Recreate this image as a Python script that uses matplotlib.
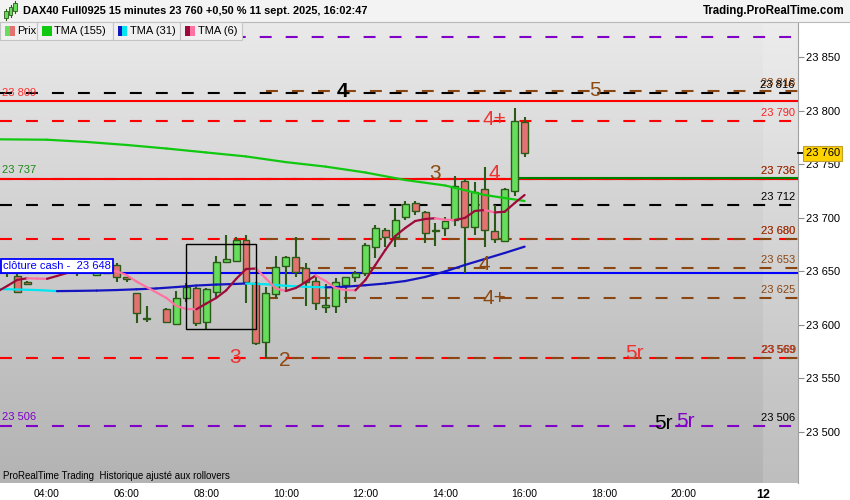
import numpy as np
import matplotlib
matplotlib.use("Agg")
import matplotlib.pyplot as plt
from matplotlib.patches import Rectangle
from matplotlib.collections import LineCollection
from matplotlib.colors import LinearSegmentedColormap
import matplotlib.transforms as mtransforms

plt.rcParams['font.family'] = ['Liberation Sans', 'DejaVu Sans']
plt.rcParams['lines.scale_dashes'] = False

# ---------------- data ----------------
bar_times = ["03:00", "03:15", "03:30", "03:45", "04:00", "04:15", "04:30", "04:45",
             "05:00", "05:15", "05:30", "05:45", "06:00", "06:15", "06:30",
             "07:00", "07:15", "07:30", "07:45", "08:00", "08:15", "08:30", "08:45",
             "09:00", "09:15", "09:30", "09:45", "10:00", "10:15", "10:30", "10:45",
             "11:00", "11:15", "11:30", "11:45", "12:00", "12:15", "12:30", "12:45",
             "13:00", "13:15", "13:30", "13:45", "14:00", "14:15", "14:30", "14:45",
             "15:00", "15:15", "15:30", "15:45", "16:00"]
opens = [23650, 23646, 23640, 23649, 23654, 23651, 23655, 23652,
         23651, 23647, 23648, 23655.5, 23644.5, 23629.5, 23606,
         23614.8, 23600.8, 23625.3, 23634, 23602.4, 23631, 23658.4, 23660,
         23679, 23638.8, 23583.7, 23628.5, 23655, 23663, 23653.4, 23641,
         23617, 23618, 23637, 23645, 23648, 23673, 23689, 23681.7,
         23701, 23713.5, 23705, 23687.5, 23690, 23698, 23734.6, 23691,
         23726.5, 23688, 23678.3, 23725, 23789]
highs = [23660, 23651, 23641, 23656, 23659, 23657, 23660, 23656,
         23655, 23656, 23657, 23657.5, 23645, 23630, 23617.6,
         23615.7, 23631.6, 23638.8, 23635, 23634, 23664.3, 23684, 23682.3,
         23684, 23640.3, 23635, 23664.3, 23664, 23682.3, 23658, 23645.6,
         23638, 23643.5, 23645, 23650, 23676, 23693, 23690, 23708.8,
         23716, 23716, 23706.3, 23695, 23700.4, 23739, 23736, 23733.6,
         23747, 23712, 23728, 23802, 23794]
lows = [23645, 23630, 23637, 23648.5, 23649, 23649, 23650, 23646,
        23648.5, 23645.5, 23647.5, 23640, 23640, 23601.5, 23603,
        23601.5, 23599.9, 23621.6, 23599, 23596, 23626.3, 23658, 23659.5,
        23620.7, 23581.2, 23569.3, 23624.8, 23632.5, 23645, 23617.6, 23614,
        23611, 23611.3, 23620, 23640, 23646, 23662, 23673, 23673,
        23698, 23702.5, 23676.7, 23674, 23683, 23692.3, 23648, 23684,
        23673, 23676, 23677.3, 23720.3, 23756.4]
closes = [23657, 23631, 23638, 23654, 23651, 23655, 23652, 23650,
          23649, 23653, 23655, 23645, 23643, 23611, 23605.5,
          23602.4, 23625.3, 23635, 23601.5, 23633.2, 23658.4, 23661.2, 23679,
          23640, 23582.8, 23629.5, 23653.7, 23663.6, 23649, 23640.3, 23620,
          23619, 23639.7, 23644.4, 23648, 23674.5, 23690, 23681.7, 23698,
          23712.5, 23706.3, 23685.5, 23688, 23697, 23730, 23691, 23723.7,
          23688.5, 23680, 23726.5, 23790, 23760]

tma155_times = ["02:45", "04:00", "05:00", "06:00", "07:00", "08:00", "09:00",
                "10:00", "11:00", "12:00", "13:00", "14:00", "15:00", "16:00"]
tma155_vals = [23773.2, 23772.8, 23770.7, 23767.9, 23764.6, 23760.9, 23757.2,
               23751.9, 23747.7, 23742.2, 23735.2, 23730.1, 23721.2, 23715.6]

tma31_times = ["02:45", "03:15", "03:45", "04:15", "04:45", "05:15", "05:45", "06:15",
               "06:45", "07:15", "07:45", "08:15", "08:45", "09:00", "09:30", "10:00",
               "10:30", "11:00", "11:30", "12:00", "12:30", "13:00", "13:30", "14:00",
               "14:30", "15:00", "15:30", "16:00"]
tma31_vals = [23633.5, 23633.0, 23632.5, 23631.5, 23631.7, 23632.0, 23632.5, 23633.2,
              23634.0, 23635.3, 23636.7, 23637.6, 23638.2, 23638.6, 23637.9, 23636.5,
              23635.5, 23635.0, 23635.6, 23637.0, 23638.6, 23640.9, 23644.7, 23649.8,
              23655.9, 23661.5, 23667.1, 23673.0]

tma6_times = ["02:45"] + bar_times
tma6_vals = [23631.0, 23636.3, 23641.9, 23643.5, 23643.2, 23643.0, 23645.6, 23648.4,
             23649.8, 23650.7, 23651.2, 23650.9, 23650.0, 23646.5, 23640.4, 23635.3,
             23625.1, 23617.6, 23614.8, 23614.5, 23619.9, 23625.1, 23632.1, 23642.8,
             23652.1, 23652.6, 23643.3, 23633.9, 23631.6, 23634.4, 23640.0, 23646.1,
             23640.9, 23634.4, 23632.5, 23632.3, 23641.9, 23655.9, 23669.9, 23682.9,
             23690.4, 23696.9, 23698.8, 23699.5, 23698.1, 23697.9, 23699.8, 23706.3,
             23707.2, 23704.9, 23705.6, 23713.7, 23721.2]

purple_levels = [23869, 23506]
black_levels = [23816, 23712]
red_dashed_levels = [23790, 23736, 23680, 23569]
red_solid_levels = [23809, 23736.5]
brown_levels = [23818.5, 23736, 23680, 23653, 23625, 23569]
brown_start = "09:30"
blue_level = 23648
green_level = 23737
green_start = "15:45"

zone_box_times = ["07:30", "09:15"]
zone_box_prices = [23596, 23675.5]

wave_texts = ["4", "5", "4+", "3", "4", "4", "4+", "3", "2", "5r", "5r", "5r"]
wave_times = ["11:26", "17:46", "15:15", "13:45", "15:15", "14:59", "15:15",
              "08:43", "09:59", "18:45", "19:29", "20:03"]
wave_prices = [23818, 23819, 23792, 23741, 23741, 23656, 23625, 23570, 23567,
               23573, 23507.5, 23509.5]
wave_colors = ["black", "#8b4a12", "#ee3333", "#8b4a12", "#ee3333", "#8b4a12",
               "#8b4a12", "#ee3333", "#8b4a12", "#ee3333", "black", "#8000c8"]

y_ticks = [23500, 23550, 23600, 23650, 23700, 23750, 23800, 23850]
x_tick_hours = [4, 6, 8, 10, 12, 14, 16, 18, 20, 22]
x_tick_labels = ["04:00", "06:00", "08:00", "10:00", "12:00", "14:00", "16:00",
                 "18:00", "20:00", "12"]
last_price = 23760


def hours(s):
    hh, mm = s.split(":")
    return int(hh) + int(mm) / 60.0


def fmt(v):
    return f"{int(v):,}".replace(",", " ")


# ---------------- figure ----------------
PX_H = 39.8      # pixels per hour
PX_P = 1.0714    # pixels per index point
fig = plt.figure(figsize=(8.5, 5), dpi=100)
fig.patch.set_facecolor("white")
ax = fig.add_axes([0, 17 / 500, 798 / 850, 461 / 500])
x_lo, x_hi = 4 - 47 / PX_H, 4 + (798 - 47) / PX_H
y_lo, y_hi = 23500 - 51 / PX_P, 23500 + 410 / PX_P

grad = np.linspace(0, 1, 256).reshape(-1, 1)
cmap = LinearSegmentedColormap.from_list("bg", ["#b3b3b3", "#cdcdcd", "#eaeaea"])
ax.imshow(grad, extent=[0, 1, 0, 1], transform=ax.transAxes, cmap=cmap,
          aspect="auto", origin="lower", zorder=0)
ax.set_xlim(x_lo, x_hi)
ax.set_ylim(y_lo, y_hi)
ax.set_autoscale_on(False)
ax.axvspan(22.0, x_hi, color="white", alpha=0.15, lw=0, zorder=0.5)

blend = mtransforms.blended_transform_factory(ax.transAxes, ax.transData)
DASH = (0, (8.6, 10.1))
LW = 1.5


def level(p, color, dashed=True, start=None, lw=LW, z=2):
    xs = x_lo if start is None else hours(start)
    ax.plot([xs, x_hi], [p, p], color=color, lw=lw,
            linestyle=DASH if dashed else "-", zorder=z, solid_capstyle="butt",
            dash_capstyle="butt")


for p in purple_levels:
    level(p, "#8000c8")
for p in black_levels:
    level(p, "black")
for p in red_dashed_levels:
    level(p, "#ff0000")
for p in brown_levels:
    level(p, "#8b4513", start=brown_start)
for p in red_solid_levels:
    level(p, "#ff0000", dashed=False, z=2.2)
level(blue_level, "#0000ff", dashed=False, z=2.3)
level(green_level, "#008000", dashed=False, start=green_start, z=2.4)


# right-end labels
def rlabel(p, text, color, dx=0.0, weight="normal"):
    ax.annotate(text, xy=(0.996, p), xycoords=blend, xytext=(dx, 5.8),
                textcoords="offset points", ha="right", va="center", fontsize=8,
                color=color, zorder=9, fontweight=weight)


def llabel(p, text, color):
    ax.annotate(text, xy=(0.003, p), xycoords=blend, xytext=(0, 6.0),
                textcoords="offset points", ha="left", va="center", fontsize=8,
                color=color, zorder=9)


rlabel(brown_levels[0], fmt(brown_levels[0]), "#8b4513", dx=0.6)
rlabel(black_levels[0], fmt(black_levels[0]), "black")
rlabel(red_dashed_levels[0], fmt(red_dashed_levels[0]), "#ff2020")
for p in red_dashed_levels[1:]:
    rlabel(p, fmt(p), "#e01010")
for p in brown_levels[1:]:
    rlabel(p, fmt(p), "#8b4513", dx=0.6)
rlabel(black_levels[1], fmt(black_levels[1]), "black")
rlabel(purple_levels[1], fmt(purple_levels[1]), "black")
llabel(red_solid_levels[0], fmt(red_solid_levels[0]), "#ff3030")
llabel(green_level, fmt(green_level), "#1a8a1a")
llabel(purple_levels[1], fmt(purple_levels[1]), "#8000c8")

# candles
t = np.array([hours(s) for s in bar_times])
o = np.array(opens); h = np.array(highs); l = np.array(lows); c = np.array(closes)
up = c >= o
edge = "#2b5a18"
ax.vlines(t, l, h, color=edge, lw=1.5, zorder=4)
ax.bar(t, np.maximum(np.abs(c - o), 0.8), width=0.175, bottom=np.minimum(o, c),
       color=np.where(up, "#66dd5c", "#e57272"), edgecolor=edge, linewidth=1.0,
       zorder=5)


# moving averages
def colored_line(times, vals, up_col, down_col, lw, z):
    x = np.array([hours(s) for s in times]); y = np.array(vals)
    pts = np.column_stack([x, y])
    segs = np.stack([pts[:-1], pts[1:]], axis=1)
    cols = [up_col if y[i + 1] >= y[i] else down_col for i in range(len(y) - 1)]
    ax.add_collection(LineCollection(segs, colors=cols, linewidths=lw, zorder=z,
                                     capstyle="round", joinstyle="round"))


colored_line(tma155_times, tma155_vals, "#10c810", "#10c810", 1.6, 6)
colored_line(tma31_times, tma31_vals, "#1414c0", "#00e5f0", 1.6, 6.1)
colored_line(tma6_times, tma6_vals, "#9e0a3a", "#ff73a2", 1.6, 6.2)

# zone rectangle
ax.add_patch(Rectangle((hours(zone_box_times[0]), zone_box_prices[0]),
                       hours(zone_box_times[1]) - hours(zone_box_times[0]),
                       zone_box_prices[1] - zone_box_prices[0],
                       fill=False, ec="black", lw=1.0, zorder=7))

# wave labels
for txt, tm, pr, col in zip(wave_texts, wave_times, wave_prices, wave_colors):
    bold = (txt == "4" and col == "black")
    ax.text(hours(tm), pr, txt, color=col, fontsize=15, ha="center", va="center",
            fontweight="bold" if bold else "normal", zorder=8)

# cash close box
ax.annotate("clôture cash -  " + fmt(blue_level), xy=(0.0035, blue_level),
            xycoords=blend, xytext=(0, 5.2), textcoords="offset points",
            ha="left", va="center", fontsize=8, color="#0000ff", zorder=10,
            bbox=dict(boxstyle="square,pad=0.18", fc="white", ec="#0000ff", lw=1.3))

# axes styling
for s in ["top", "left", "bottom"]:
    ax.spines[s].set_visible(False)
ax.spines["right"].set_color("#a0a0a0")
ax.yaxis.tick_right()
ax.set_yticks(y_ticks)
ax.set_yticklabels([fmt(v) for v in y_ticks])
ax.tick_params(axis="y", labelsize=8, length=4, color="#8c8c8c", pad=2,
               labelcolor="black")
ax.set_xticks(x_tick_hours)
ax.set_xticklabels(x_tick_labels)
ax.tick_params(axis="x", labelsize=7.5, length=0, pad=4, labelcolor="black")
lbl12 = ax.get_xticklabels()[-1]
lbl12.set_fontweight("bold")
lbl12.set_fontsize(9)

# last price tag
ax.plot([1.0, 1.008], [last_price, last_price], transform=blend, color="black",
        lw=1.3, clip_on=False, zorder=10)
ax.annotate(fmt(last_price), xy=(1.0, last_price), xycoords=blend, xytext=(5.6, 0),
            textcoords="offset points", ha="left", va="center", fontsize=8,
            color="black", zorder=11, annotation_clip=False,
            bbox=dict(boxstyle="square,pad=0.22", fc="#ffd200", ec="#c0a030", lw=0.8))

fig.text(3 / 850, 1 - 476 / 500, "ProRealTime Trading  Historique ajusté aux rollovers",
         fontsize=7, va="center", ha="left", color="black")


# ---------------- header & legend ----------------
def fx(x):
    return x / 850.0


def fy(y):
    return 1 - y / 500.0


fig.patches.append(Rectangle((0, fy(22)), 1, 22 / 500, transform=fig.transFigure,
                             fc="#f3f3f3", ec="none", zorder=5))
fig.lines.append(plt.Line2D([0, 1], [fy(22), fy(22)], transform=fig.transFigure,
                            color="#b8b8b8", lw=0.8, zorder=5.5))
for cx, y0, y1 in [(6, 11, 18), (10.5, 7, 15), (15, 3, 11)]:
    fig.lines.append(plt.Line2D([fx(cx), fx(cx)], [fy(y1 + 2), fy(y0 - 2)],
                                transform=fig.transFigure, color="#2b5a18", lw=0.8,
                                zorder=6))
    fig.patches.append(Rectangle((fx(cx - 1.8), fy(y1)), 3.6 / 850, (y1 - y0) / 500,
                                 transform=fig.transFigure, fc="#66dd5c",
                                 ec="#2b5a18", lw=0.6, zorder=6.5))
fig.text(fx(23), fy(11), "DAX40 Full0925 15 minutes 23 760 +0,50 % 11 sept. 2025, 16:02:47",
         fontsize=7.9, fontweight="bold", va="center", ha="left", zorder=7)
fig.text(fx(845), fy(11), "Trading.ProRealTime.com", fontsize=8.3, fontweight="bold",
         va="center", ha="right", zorder=7)

legend_items = [("Prix", 0, 37, ("#66dd5c", "#e57272")),
                ("TMA (155)", 37, 113, ("#10c810", "#10c810")),
                ("TMA (31)", 113, 180, ("#1414c0", "#00e5f0")),
                ("TMA (6)", 180, 242, ("#9e0a3a", "#ff73a2"))]
for name, x0, x1, (c1, c2) in legend_items:
    fig.patches.append(Rectangle((fx(x0), fy(40)), (x1 - x0) / 850, 18 / 500,
                                 transform=fig.transFigure, fc="#f0f0f0",
                                 ec="#c4c4c4", lw=0.8, zorder=8))
    ix = x0 + 4.5
    fig.patches.append(Rectangle((fx(ix), fy(36)), 5 / 850, 10 / 500,
                                 transform=fig.transFigure, fc=c1, ec="none", zorder=9))
    fig.patches.append(Rectangle((fx(ix + 5), fy(36)), 5 / 850, 10 / 500,
                                 transform=fig.transFigure, fc=c2, ec="none", zorder=9))
    fig.text(fx(ix + 13), fy(31), name, fontsize=8, va="center", ha="left", zorder=10)

fig.savefig("out.png", dpi=100)
